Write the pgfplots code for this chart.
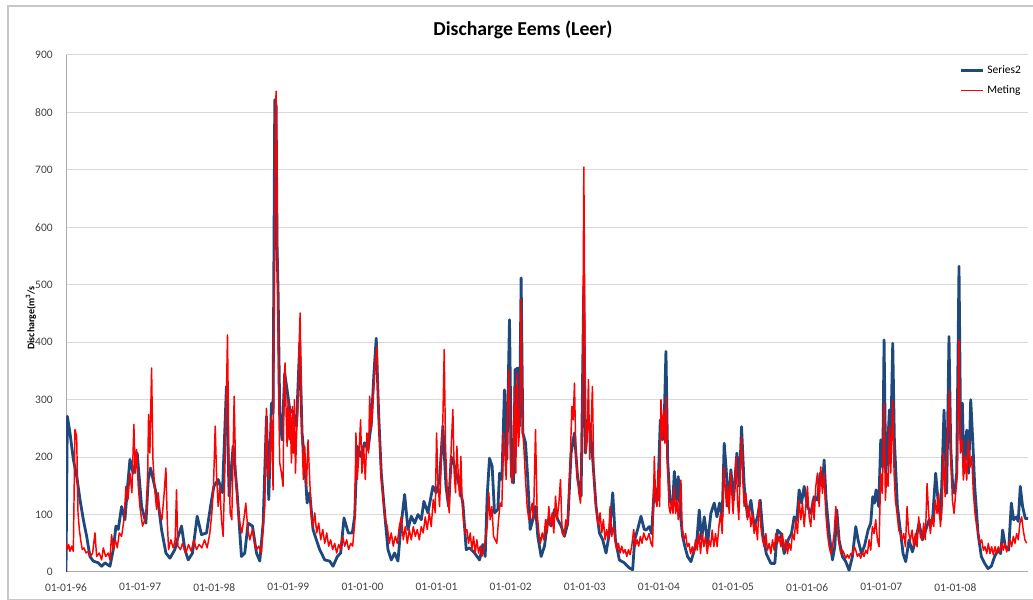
\documentclass[border=0pt]{standalone}
\usepackage{fontspec}
\setmainfont{Carlito}
\usepackage{pgfplots}
\pgfplotsset{compat=1.18}
\definecolor{seriesblue}{RGB}{31,73,125}
\definecolor{metingred}{RGB}{255,0,0}
\definecolor{gridgray}{RGB}{217,217,217}
\definecolor{axisgray}{RGB}{170,170,170}
\definecolor{framegray}{RGB}{200,200,200}
\begin{document}
\begin{tikzpicture}
\useasboundingbox (0,0) rectangle (774.75pt,450pt);
% chart area frame
\draw[framegray, line width=2pt] (6pt,-2pt) -- (6pt,445.5pt) -- (780pt,445.5pt);
\draw[framegray, line width=0.6pt] (6pt,0.6pt) -- (780pt,0.6pt);
\begin{axis}[
  at={(49.5pt,21pt)}, anchor=south west,
  scale only axis, width=721.5pt, height=387.75pt,
  xmin=0, xmax=12.98, ymin=0, ymax=900,
  axis x line*=bottom, axis y line*=left,
  axis line style={axisgray, line width=0.75pt, -},
  every outer x axis line/.append style={-},
  every outer y axis line/.append style={-},
  ymajorgrids, major grid style={gridgray, line width=0.75pt},
  ytick={0,100,...,900},
  xtick={0,...,12},
  xticklabels={01-01-96,01-01-97,01-01-98,01-01-99,01-01-00,01-01-01,01-01-02,01-01-03,01-01-04,01-01-05,01-01-06,01-01-07,01-01-08},
  major tick length=0pt,
  tick label style={font=\fontsize{8.6}{10}\selectfont, text=black!75},
  /pgf/number format/assume math mode=true,
  yticklabel style={xshift=-6.5pt},
  xticklabel style={yshift=-5pt},
  legend style={draw=none, fill=none, at={(0.924,0.99)}, anchor=north west,
    font=\fontsize{8.6}{10}\selectfont, row sep=3.5pt},
  legend cell align=left,
  legend image code/.code={\draw[#1] (0pt,0pt) -- (17pt,0pt);},
]
\addplot[seriesblue, line width=2.1pt, line join=round] coordinates {
(0,0) (0.018,271) (0.054,242) (0.099,196) (0.144,167) (0.189,126) (0.234,91) (0.279,62) (0.323,27) (0.368,19) (0.436,16) (0.481,10) (0.526,16) (0.593,10) (0.638,39) (0.674,80) (0.705,74) (0.750,114) (0.795,91) (0.831,149) (0.863,196) (0.907,172) (0.961,207) (1.020,114) (1.078,85) (1.110,161) (1.141,181) (1.186,155) (1.244,120) (1.289,74) (1.348,33) (1.402,24) (1.469,39) (1.514,62) (1.559,80) (1.604,39) (1.649,21) (1.707,33) (1.770,97) (1.828,65) (1.896,68) (1.950,114) (1.995,149) (2.053,161) (2.111,138) (2.165,323) (2.201,132) (2.255,219) (2.309,138) (2.367,27) (2.412,33) (2.457,85) (2.516,80)
(2.570,33) (2.615,19) (2.660,85) (2.705,271) (2.736,126) (2.772,294) (2.794,277) (2.817,822) (2.835,811) (2.848,567) (2.862,486) (2.884,277) (2.915,230) (2.951,346) (2.983,317) (3.019,283) (3.064,277) (3.109,254) (3.154,399) (3.185,242) (3.221,190) (3.253,120) (3.288,138) (3.333,74) (3.378,56) (3.423,39) (3.491,21) (3.558,19) (3.603,10) (3.661,27) (3.706,33) (3.751,94) (3.809,68) (3.863,68) (3.895,97) (3.930,219) (3.975,201) (4.029,225) (4.075,213) (4.120,259) (4.155,346) (4.186,407) (4.218,277) (4.254,172) (4.299,103) (4.344,39) (4.389,21) (4.434,33) (4.479,19) (4.515,74) (4.569,135) (4.614,74) (4.659,97) (4.704,85) (4.749,100) (4.794,91) (4.829,123) (4.883,103) (4.951,149) (4.995,138) (5.040,161) (5.085,254) (5.127,149) (5.162,114) (5.198,200)
(5.220,196) (5.265,172) (5.310,149) (5.355,120) (5.377,80) (5.400,39) (5.445,42) (5.512,33) (5.580,21) (5.625,48) (5.656,27) (5.683,132) (5.714,198) (5.750,184) (5.782,103) (5.827,109) (5.849,172) (5.881,161) (5.916,317) (5.948,196) (5.984,439) (6.011,167) (6.038,155) (6.060,352) (6.096,355) (6.119,254) (6.141,512) (6.164,242) (6.200,225) (6.231,161) (6.263,74) (6.299,91) (6.335,114) (6.366,62) (6.411,27) (6.456,45) (6.501,91) (6.546,80) (6.591,109) (6.636,91) (6.681,80) (6.725,62) (6.770,85) (6.815,207) (6.860,242) (6.905,161) (6.950,132) (6.986,497) (7.008,207) (7.040,265) (7.071,254) (7.107,196) (7.152,114) (7.197,68) (7.242,56) (7.287,33) (7.332,68) (7.377,138) (7.413,56) (7.466,21) (7.533,16) (7.601,7) (7.646,4) (7.673,56) (7.713,74) (7.758,97) (7.803,74)
(7.826,73) (7.870,79) (7.902,67) (7.938,149) (7.983,125) (8.019,265) (8.050,230) (8.073,270) (8.095,384) (8.118,195) (8.149,125) (8.185,114) (8.208,175) (8.235,125) (8.261,166) (8.288,102) (8.320,62) (8.351,44) (8.387,27) (8.432,18) (8.477,38) (8.513,56) (8.544,108) (8.576,56) (8.612,96) (8.657,50) (8.701,102) (8.746,120) (8.783,96) (8.818,120) (8.854,96) (8.881,224) (8.908,178) (8.935,114) (8.971,178) (9.007,125) (9.052,207) (9.084,149) (9.115,253) (9.151,149) (9.196,96) (9.241,125) (9.286,79) (9.331,96) (9.367,125) (9.403,67) (9.448,32) (9.510,15) (9.564,15) (9.600,73) (9.645,67) (9.690,32) (9.744,56) (9.789,67) (9.825,96) (9.861,90) (9.892,143) (9.924,120) (9.960,149) (10.004,114) (10.049,102) (10.094,131) (10.139,125) (10.175,172) (10.207,149) (10.229,195) (10.256,125) (10.297,67) (10.342,21) (10.373,44) (10.400,108) (10.431,56) (10.476,27)
(10.521,18) (10.566,3) (10.611,27) (10.656,79) (10.687,56) (10.733,32) (10.777,47) (10.822,73) (10.858,85) (10.885,131) (10.908,120) (10.930,143) (10.966,114) (10.993,230) (11.020,183) (11.038,404) (11.060,172) (11.083,207) (11.110,282) (11.128,230) (11.155,398) (11.177,230) (11.218,114) (11.263,67) (11.294,32) (11.330,18) (11.375,56) (11.420,35) (11.465,56) (11.510,85) (11.555,56) (11.600,73) (11.645,91) (11.689,85) (11.734,172) (11.766,125) (11.802,91) (11.847,282) (11.883,137) (11.914,410) (11.937,218) (11.964,149) (11.991,137) (12.018,172) (12.049,532) (12.072,230) (12.094,294) (12.117,172) (12.153,247) (12.180,172) (12.207,300) (12.234,230) (12.261,149) (12.306,67) (12.350,27) (12.395,15) (12.440,6) (12.485,10) (12.530,27) (12.575,38) (12.611,32) (12.638,73) (12.674,44) (12.719,38) (12.755,120) (12.786,91) (12.826,96) (12.848,88) (12.876,149) (12.907,114) (12.944,93) (12.988,93)
};
\addlegendentry{Series2}
\addplot[metingred, line width=1.1pt, line join=round] coordinates {
(0,50) (0.018,39) (0.036,48) (0.054,36) (0.076,45) (0.099,36) (0.121,248) (0.144,236) (0.162,103) (0.180,74) (0.198,56) (0.220,39) (0.243,42) (0.270,33) (0.301,36) (0.332,27) (0.359,33) (0.391,68) (0.413,27) (0.449,33) (0.481,21) (0.503,42) (0.535,27) (0.571,33) (0.593,21) (0.615,65) (0.638,39) (0.665,56) (0.692,42) (0.719,68) (0.750,62) (0.782,91) (0.809,149) (0.836,126) (0.863,172) (0.889,138) (0.916,257) (0.934,172) (0.952,213) (0.975,149) (0.997,114) (1.033,80) (1.065,91) (1.096,114) (1.114,274) (1.132,207) (1.155,355) (1.173,196) (1.195,149) (1.222,109) (1.244,138) (1.267,103) (1.294,91) (1.321,132) (1.348,181) (1.366,91) (1.384,39) (1.415,56) (1.446,42) (1.473,56) (1.491,143) (1.509,45) (1.545,39) (1.573,50) (1.617,33) (1.653,48) (1.689,36) (1.725,56) (1.761,39) (1.797,48) (1.833,42) (1.869,56) (1.905,42) (1.941,68) (1.968,103) (1.990,149) (2.013,254) (2.031,172) (2.053,114) (2.075,149) (2.098,91) (2.120,62) (2.147,196) (2.165,312) (2.179,413) (2.197,207) (2.215,103) (2.237,91) (2.269,306) (2.291,161) (2.314,120) (2.336,91) (2.372,68) (2.399,91) (2.426,120) (2.453,74) (2.480,56) (2.516,74) (2.552,45)
(2.570,39) (2.601,45) (2.637,33) (2.660,79) (2.682,114) (2.705,285) (2.727,161) (2.749,190) (2.772,271) (2.794,143) (2.808,451) (2.826,799) (2.835,837) (2.844,741) (2.853,573) (2.866,335) (2.884,190) (2.907,172) (2.929,149) (2.943,335) (2.956,364) (2.970,277) (2.983,219) (2.997,300) (3.010,230) (3.024,283) (3.042,190) (3.055,288) (3.069,207) (3.082,300) (3.096,172) (3.114,248) (3.127,277) (3.145,393) (3.159,451) (3.172,335) (3.185,230) (3.203,161) (3.221,219) (3.244,149) (3.266,230) (3.288,161) (3.311,96) (3.333,79) (3.356,103) (3.383,68) (3.410,85) (3.437,56) (3.464,74) (3.491,50) (3.518,68) (3.544,45) (3.571,56) (3.598,39) (3.625,50) (3.652,33) (3.679,48) (3.706,39) (3.733,62) (3.760,45) (3.787,56) (3.814,39) (3.841,50) (3.868,45) (3.895,85) (3.912,242) (3.930,161) (3.953,207) (3.975,265) (3.993,172) (4.016,219) (4.038,161) (4.061,242) (4.083,207) (4.097,306) (4.120,248) (4.142,300) (4.164,346) (4.182,375) (4.196,393) (4.214,277) (4.232,230) (4.254,161) (4.281,126) (4.308,91) (4.335,79) (4.362,50) (4.389,68) (4.416,45) (4.443,62) (4.470,50) (4.497,79) (4.524,96) (4.551,56) (4.578,79) (4.605,50) (4.632,74) (4.659,56) (4.686,79) (4.713,62) (4.740,74) (4.767,56) (4.793,79) (4.820,68) (4.847,96) (4.874,74) (4.901,103) (4.928,79) (4.955,126) (4.982,103) (5.000,242) (5.018,161) (5.040,114) (5.063,190) (5.085,265) (5.103,387) (5.121,219) (5.144,138) (5.171,103) (5.198,219)
(5.220,283) (5.238,172) (5.256,138) (5.274,219) (5.292,172) (5.310,132) (5.328,201) (5.346,120) (5.364,91) (5.386,68) (5.409,74) (5.431,50) (5.454,68) (5.476,39) (5.499,62) (5.521,33) (5.544,56) (5.566,33) (5.589,45) (5.611,27) (5.634,39) (5.660,56) (5.683,80) (5.705,138) (5.723,91) (5.746,114) (5.769,62) (5.791,56) (5.813,50) (5.836,91) (5.858,120) (5.881,114) (5.903,242) (5.921,207) (5.939,161) (5.961,288) (5.979,352) (5.997,196) (6.015,155) (6.033,172) (6.051,323) (6.069,172) (6.087,346) (6.105,219) (6.123,254) (6.141,474) (6.159,254) (6.177,219) (6.200,161) (6.222,114) (6.245,91) (6.267,103) (6.290,120) (6.308,91) (6.335,248) (6.357,103) (6.380,68) (6.402,50) (6.425,68) (6.447,56) (6.470,91) (6.492,68) (6.515,114) (6.537,80) (6.560,103) (6.582,68) (6.605,132) (6.627,91) (6.650,120) (6.672,161) (6.694,68) (6.721,62) (6.744,91) (6.767,80) (6.789,149) (6.807,207) (6.825,288) (6.843,265) (6.861,329) (6.879,207) (6.897,172) (6.919,138) (6.942,120) (6.960,207) (6.973,381) (6.987,705) (7.003,381) (7.013,207) (7.031,230) (7.049,335) (7.067,196) (7.085,254) (7.103,323) (7.121,172) (7.139,126) (7.161,103) (7.184,80) (7.206,103) (7.229,68) (7.251,91) (7.274,56) (7.296,74) (7.319,56) (7.341,114) (7.364,62) (7.387,80) (7.409,56) (7.431,39) (7.454,50) (7.476,33) (7.499,45) (7.521,33) (7.544,39) (7.566,27) (7.589,39) (7.611,30) (7.633,45) (7.660,74) (7.682,45) (7.705,56) (7.727,45) (7.750,62) (7.772,50) (7.795,68) (7.825,56)
(7.839,56) (7.866,67) (7.893,50) (7.915,44) (7.938,201) (7.956,125) (7.974,114) (7.992,178) (8.010,114) (8.028,300) (8.046,230) (8.064,282) (8.082,224) (8.100,305) (8.118,183) (8.136,114) (8.154,102) (8.172,125) (8.190,102) (8.207,149) (8.225,102) (8.243,125) (8.261,91) (8.279,120) (8.297,160) (8.315,73) (8.338,56) (8.360,67) (8.383,44) (8.405,50) (8.427,32) (8.450,44) (8.472,32) (8.494,56) (8.517,38) (8.539,67) (8.562,32) (8.584,67) (8.607,44) (8.629,62) (8.652,32) (8.674,56) (8.697,44) (8.719,73) (8.741,44) (8.764,67) (8.786,44) (8.809,79) (8.831,102) (8.854,67) (8.876,183) (8.894,149) (8.912,114) (8.930,149) (8.948,102) (8.966,172) (8.984,137) (9.001,102) (9.019,149) (9.042,201) (9.060,125) (9.078,91) (9.096,172) (9.115,236) (9.132,160) (9.150,114) (9.172,137) (9.195,91) (9.218,114) (9.240,79) (9.263,102) (9.285,67) (9.308,85) (9.330,56) (9.353,125) (9.375,79) (9.398,56) (9.420,44) (9.443,67) (9.465,38) (9.488,50) (9.510,32) (9.533,56) (9.555,38) (9.578,67) (9.600,50) (9.622,62) (9.645,44) (9.667,67) (9.690,38) (9.712,56) (9.735,32) (9.757,50) (9.780,38) (9.802,67) (9.825,56) (9.847,91) (9.870,67) (9.892,125) (9.915,91) (9.937,120) (9.960,79) (9.982,114) (10.004,149) (10.027,96) (10.049,79) (10.072,125) (10.094,91) (10.117,149) (10.139,172) (10.162,114) (10.184,183) (10.207,137) (10.229,172) (10.252,102) (10.274,67) (10.297,44) (10.319,32) (10.342,44) (10.364,67) (10.387,114) (10.409,79) (10.431,50) (10.454,32) (10.476,38)
(10.499,32) (10.521,24) (10.544,30) (10.566,24) (10.588,32) (10.611,30) (10.638,44) (10.656,38) (10.678,27) (10.701,32) (10.723,24) (10.746,35) (10.768,27) (10.791,38) (10.813,32) (10.836,56) (10.858,38) (10.880,79) (10.903,67) (10.925,91) (10.948,56) (10.970,44) (10.993,172) (11.015,137) (11.038,294) (11.056,125) (11.074,172) (11.092,149) (11.110,253) (11.128,172) (11.155,299) (11.173,172) (11.191,125) (11.213,102) (11.236,73) (11.258,67) (11.281,56) (11.303,67) (11.326,44) (11.348,114) (11.371,67) (11.393,56) (11.416,73) (11.438,44) (11.460,67) (11.483,44) (11.505,96) (11.528,62) (11.550,56) (11.573,85) (11.595,56) (11.618,154) (11.640,102) (11.663,67) (11.685,96) (11.708,79) (11.730,125) (11.753,102) (11.775,137) (11.798,79) (11.820,114) (11.840,207) (11.862,131) (11.883,207) (11.900,253) (11.919,317) (11.937,207) (11.960,125) (11.982,102) (12.004,137) (12.027,172) (12.049,404) (12.067,207) (12.090,230) (12.108,160) (12.130,201) (12.153,160) (12.175,230) (12.198,183) (12.220,201) (12.243,137) (12.265,102) (12.288,79) (12.310,67) (12.333,50) (12.355,56) (12.378,38) (12.400,44) (12.423,32) (12.445,50) (12.467,32) (12.490,44) (12.512,30) (12.535,44) (12.557,32) (12.580,44) (12.602,35) (12.625,50) (12.647,38) (12.669,50) (12.692,35) (12.714,44) (12.737,56) (12.759,44) (12.782,62) (12.804,50) (12.827,67) (12.849,56) (12.871,85) (12.894,96) (12.916,73) (12.938,56) (12.961,50)
};
\addlegendentry{Meting}
\end{axis}
\node[font=\bfseries\fontsize{14.8}{17}\selectfont] at (392.25pt,427.5pt) {Discharge Eems (Leer)};
\node[rotate=90, font=\bfseries\fontsize{7.5}{9}\selectfont] at (23.25pt,211.5pt) {Discharge(m\textsuperscript{3}/s};
\end{tikzpicture}
\end{document}
